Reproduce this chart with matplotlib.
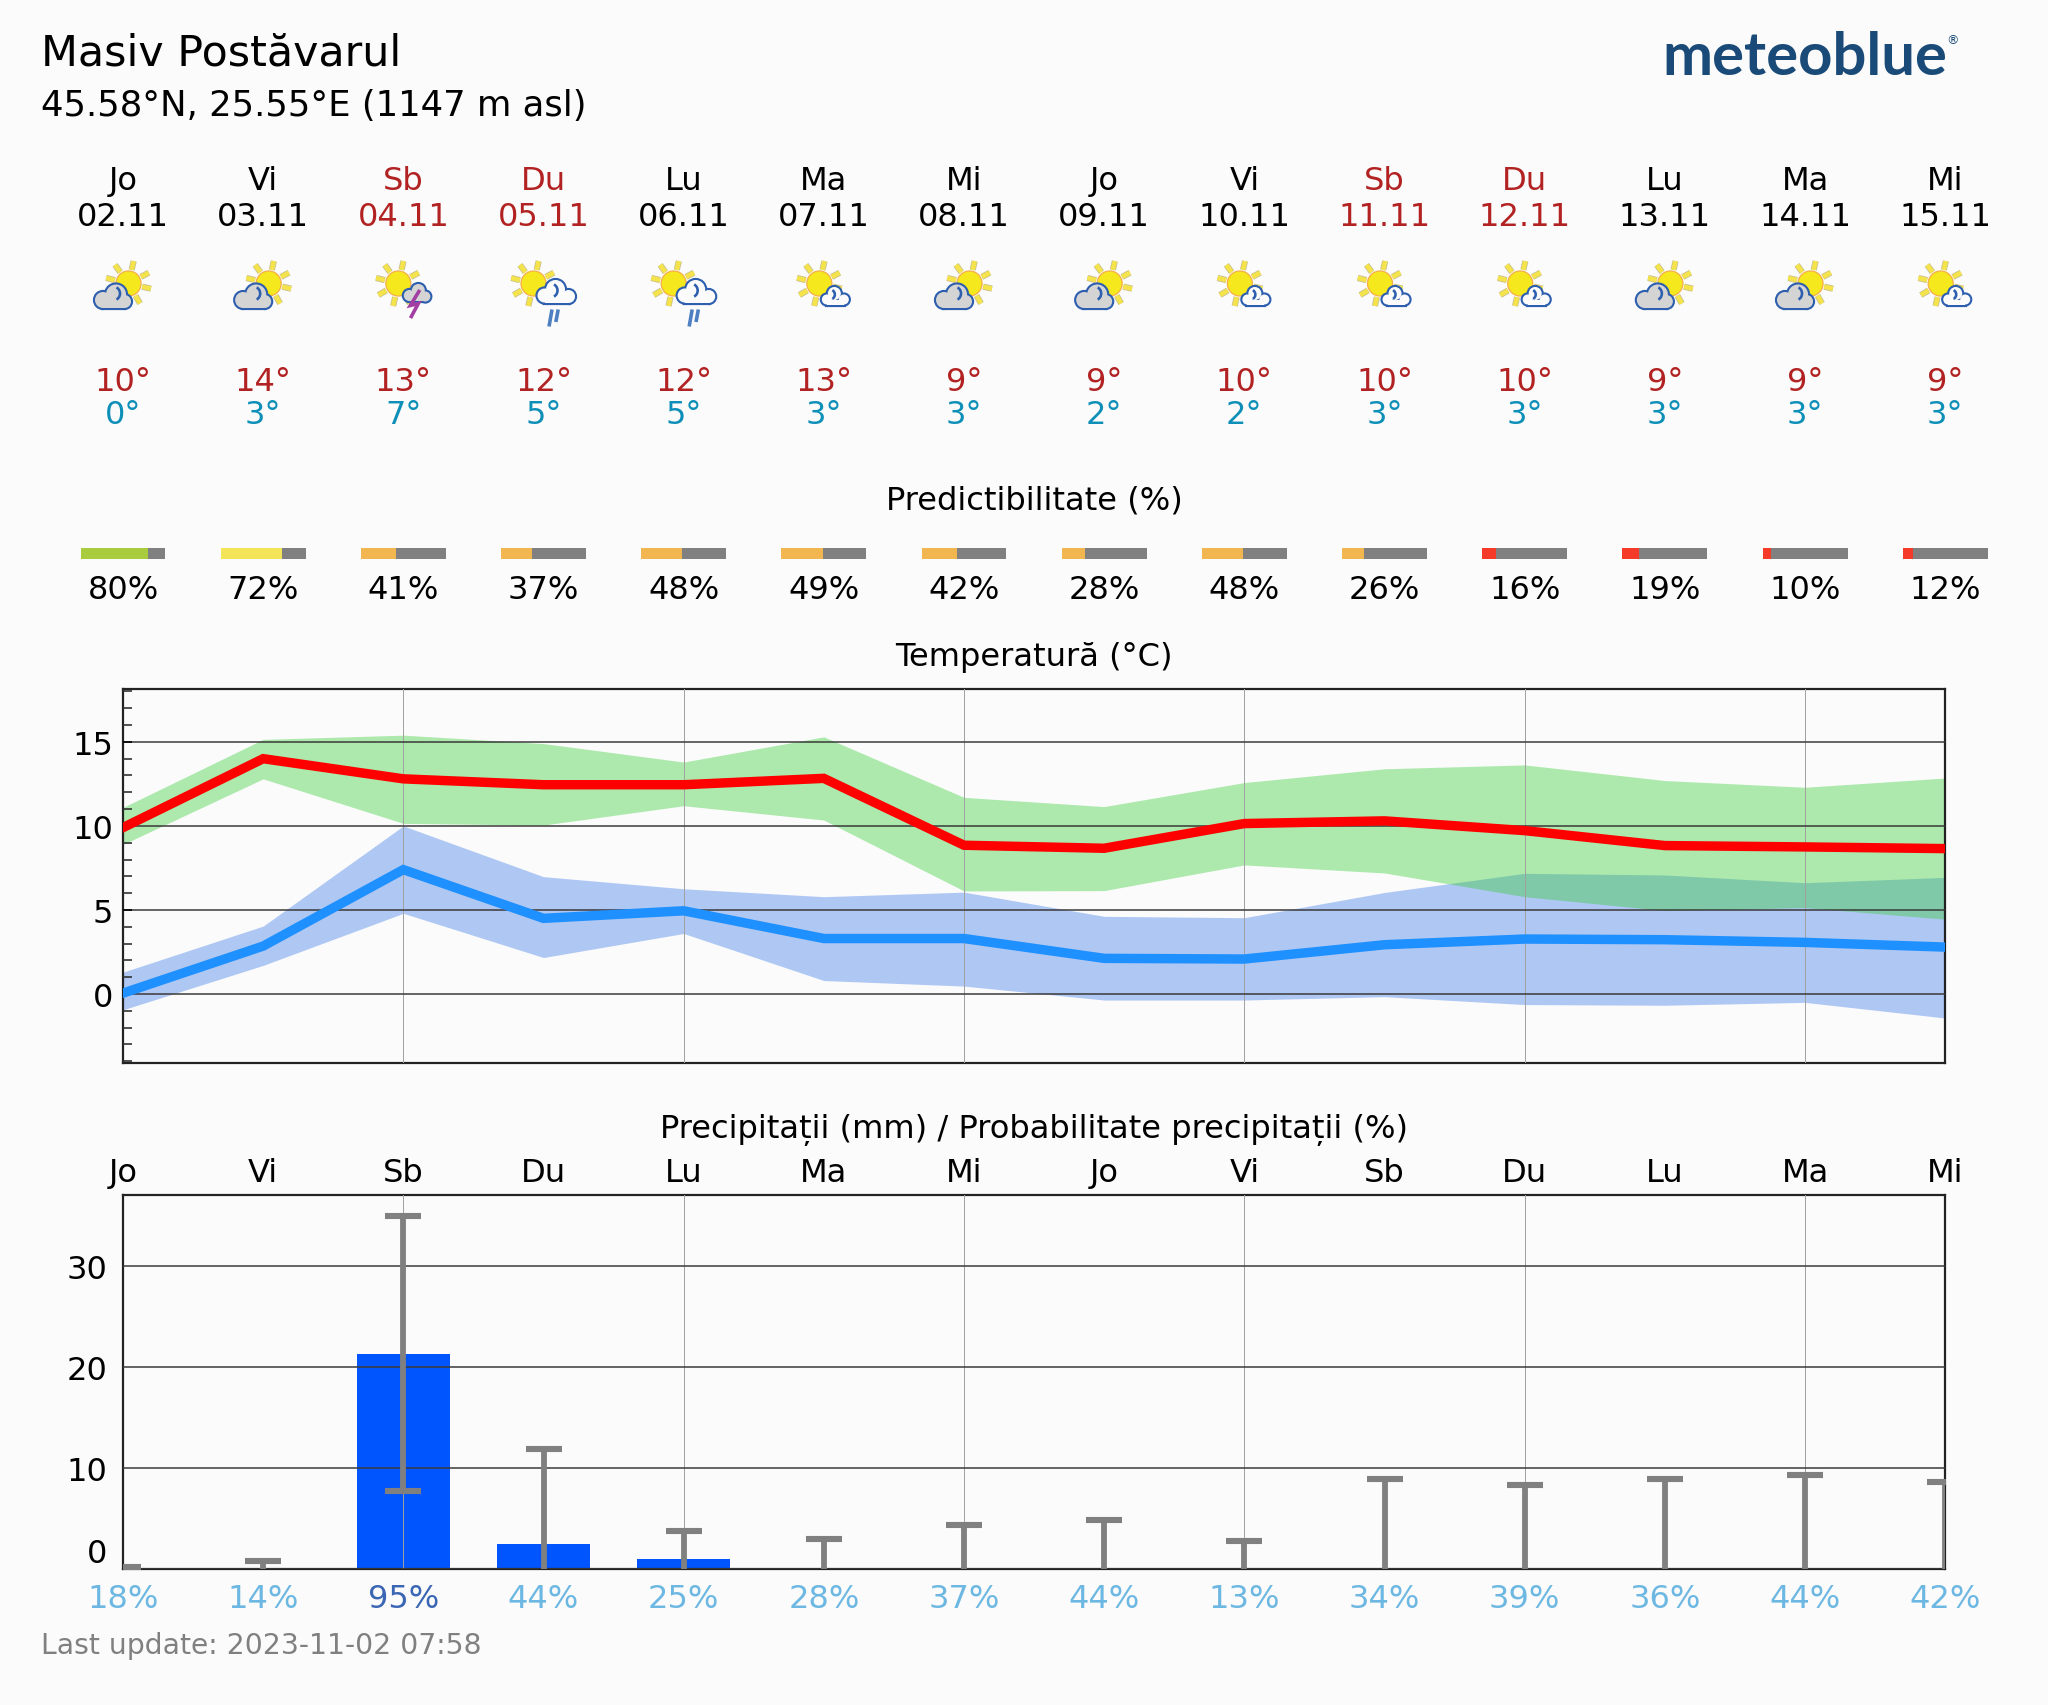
import numpy as np
import matplotlib
matplotlib.use("Agg")
import matplotlib.pyplot as plt
from matplotlib.patches import Circle, Rectangle, Arc
from matplotlib.transforms import blended_transform_factory

# ---------- data ----------
day_names = ["Jo", "Vi", "Sb", "Du", "Lu", "Ma", "Mi", "Jo", "Vi", "Sb", "Du", "Lu", "Ma", "Mi"]
dates = ["02.11", "03.11", "04.11", "05.11", "06.11", "07.11", "08.11",
         "09.11", "10.11", "11.11", "12.11", "13.11", "14.11", "15.11"]
weekend = [False, False, True, True, False, False, False, False, False, True, True, False, False, False]
icons = ["g", "g", "t", "r", "r", "s", "g", "g", "s", "s", "s", "g", "g", "s"]
label_max = [10, 14, 13, 12, 12, 13, 9, 9, 10, 10, 10, 9, 9, 9]
label_min = [0, 3, 7, 5, 5, 3, 3, 2, 2, 3, 3, 3, 3, 3]
predictability = [80, 72, 41, 37, 48, 49, 42, 28, 48, 26, 16, 19, 10, 12]

tmax_mean = [9.9, 14.0, 12.8, 12.45, 12.45, 12.83, 8.85, 8.67, 10.14, 10.3, 9.72, 8.83, 8.75, 8.65]
tmax_high = [11.1, 15.15, 15.4, 14.9, 13.8, 15.3, 11.7, 11.15, 12.58, 13.4, 13.63, 12.7, 12.3, 12.85]
tmax_low = [8.9, 12.8, 10.15, 10.05, 11.2, 10.35, 6.13, 6.15, 7.68, 7.2, 5.79, 4.96, 5.14, 4.45]
tmin_mean = [0.05, 2.85, 7.4, 4.5, 4.95, 3.3, 3.3, 2.12, 2.08, 2.93, 3.27, 3.23, 3.07, 2.79]
tmin_high = [1.3, 4.04, 10.0, 6.98, 6.26, 5.79, 6.06, 4.62, 4.54, 6.04, 7.18, 7.08, 6.62, 6.94]
tmin_low = [-0.94, 1.7, 4.8, 2.17, 3.6, 0.8, 0.47, -0.36, -0.36, -0.16, -0.63, -0.67, -0.5, -1.43]

precip = [0, 0, 21.3, 2.5, 1.0, 0, 0, 0, 0, 0, 0, 0, 0, 0]
precip_low = [0, 0, 7.75, 0, 0, 0, 0, 0, 0, 0, 0, 0, 0, 0]
precip_high = [0.25, 0.86, 34.9, 11.85, 3.8, 3.0, 4.4, 4.85, 2.78, 8.9, 8.35, 8.98, 9.3, 8.68]
precip_prob = [18, 14, 95, 44, 25, 28, 37, 44, 13, 34, 39, 36, 44, 42]

title = "Masiv Postăvarul"
subtitle = "45.58°N, 25.55°E (1147 m asl)"
footer = "Last update: 2023-11-02 07:58"

# ---------- layout ----------
W, H, DPI = 2048, 1706, 200
BG = "#fbfbfb"
DARK_RED = "#b22222"
CYAN = "#0e8fb8"
x = np.arange(len(dates))

plt.rcParams["font.family"] = ["DejaVu Sans"]
fig = plt.figure(figsize=(W / DPI, H / DPI), dpi=DPI, facecolor=BG)


def axes_px(left, top, right, bottom, **kw):
    return fig.add_axes([left / W, 1 - bottom / H, (right - left) / W, (bottom - top) / H], **kw)


L, R = 123, 1945.2
ax_px = axes_px(0, 0, W, H)
ax_px.set_xlim(0, W)
ax_px.set_ylim(H, 0)
ax_px.axis("off")

ax_t = axes_px(L, 689.6, R, 1064.4, facecolor="none")
ax_p = axes_px(L, 1195.7, R, 1570.3, facecolor="none")
ax_b = axes_px(L, 548.8, R, 559.8)
ax_b.axis("off")
for a in (ax_t, ax_p, ax_b):
    a.set_xlim(0, len(x) - 1)

tr = blended_transform_factory(ax_t.transData, ax_px.transData)
HEAD = 11.55


def htext(i, y, s, color="black", size=HEAD):
    ax_px.text(i, y, s, transform=tr, ha="center", va="center", color=color, fontsize=size)


ax_px.text(41, 53, title, fontsize=15.4, va="center", ha="left", color="black")
ax_px.text(41, 105.5, subtitle, fontsize=12.8, va="center", ha="left", color="black")
ax_px.text(1662, 58, "meteoblue", fontsize=21.5, fontfamily="Lato", fontweight="bold",
           color="#1a4a78", va="center", ha="left")
ax_px.text(1952, 41, "®", fontsize=4.5, color="#1a4a78", va="center", ha="center")
ax_px.text(41, 1646.5, footer, fontsize=10.2, color="#808080", va="center", ha="left")

mid = np.mean([L, R])
ax_px.text(mid, 500.5, "Predictibilitate (%)", fontsize=HEAD, ha="center", va="center")
ax_px.text(mid, 657.5, "Temperatură (°C)", fontsize=HEAD, ha="center", va="center")
ax_px.text(mid, 1130.5, "Precipitații (mm) / Probabilitate precipitații (%)",
           fontsize=HEAD, ha="center", va="center")

for i in x:
    c = DARK_RED if weekend[i] else "black"
    htext(i, 181, day_names[i], c)
    htext(i, 217, dates[i], c)
    htext(i, 382.5, f"{label_max[i]}°", DARK_RED)
    htext(i, 415.5, f"{label_min[i]}°", CYAN)
    htext(i, 590.5, f"{predictability[i]}%")
    htext(i, 1173.5, day_names[i])
    prob_col = "#3a66b4" if precip_prob[i] > 90 else "#6db8e2"
    htext(i, 1599.5, f"{precip_prob[i]}%", prob_col)


# ---------- weather icons ----------
def px2pt(v):
    return v * 72 / DPI


def sun(cx, cy):
    for deg in [-60, -13, 28, 77, 126, 166, 210, 257]:
        t = np.radians(deg)
        xs = [cx + 14 * np.cos(t), cx + 23 * np.cos(t)]
        ys = [cy - 14 * np.sin(t), cy - 23 * np.sin(t)]
        ax_px.plot(xs, ys, color="#c8c090", lw=px2pt(6.2), solid_capstyle="butt", zorder=2)
        ax_px.plot(xs, ys, color="#f4e34a", lw=px2pt(4.6), solid_capstyle="butt", zorder=2.1)
    ax_px.add_patch(Circle((cx, cy), 12.5, fc="#f5e81c", ec="#f5b04a", lw=px2pt(1.3), zorder=2.2))


def cloud(lobes, box, fill, curl=None):
    blue = "#2d5fae"
    for (a, b, r) in lobes:
        ax_px.add_patch(Circle((a, b), r, fc=blue, ec=blue, lw=px2pt(4.2), zorder=3))
    ax_px.add_patch(Rectangle(box[:2], box[2], box[3], fc=blue, ec=blue, lw=px2pt(4.2), zorder=3))
    for (a, b, r) in lobes:
        ax_px.add_patch(Circle((a, b), r, fc=fill, ec="none", zorder=3.1))
    ax_px.add_patch(Rectangle(box[:2], box[2], box[3], fc=fill, ec="none", zorder=3.1))
    if curl:
        ax_px.add_patch(Arc(curl[:2], curl[2], curl[2], theta1=300, theta2=60, color=blue,
                            lw=px2pt(2.6), zorder=3.2))


def icon(cx, kind, cy=284.5):
    if kind == "g":
        sun(cx + 5.5, cy)
        cloud([(cx - 20, cy + 16.5, 8), (cx - 7, cy + 11, 10), (cx + 1.5, cy + 18, 6.5)],
              (cx - 20, cy + 18, 21, 6.5), "#d4d4d4", (cx - 10, cy + 10, 14))
    elif kind == "s":
        sun(cx - 4.5, cy)
        cloud([(cx + 3, cy + 16, 5), (cx + 10.5, cy + 10, 6.5), (cx + 20, cy + 16, 5)],
              (cx + 3, cy + 16, 17, 5), BG, (cx + 6, cy + 11, 10))
    elif kind == "r":
        sun(cx - 10, cy)
        cloud([(cx + 1, cy + 12, 7), (cx + 12, cy + 6, 9.5), (cx + 25, cy + 13, 6.5)],
              (cx + 1, cy + 12, 24, 7), BG, (cx + 7, cy + 7, 14))
        for a, b, c, d in [(8.5, 26, 5.5, 43), (14.7, 26, 12.3, 38.5)]:
            ax_px.plot([cx + a, cx + c], [cy + b, cy + d], color="#4d7fc2",
                       lw=px2pt(3.6), solid_capstyle="butt", zorder=3)
    else:
        sun(cx - 5, cy)
        cloud([(cx + 6, cy + 12, 5.5), (cx + 15, cy + 7, 6.5), (cx + 22, cy + 13, 5)],
              (cx + 6, cy + 12, 16, 5.5), "#d4d4d4")
        ax_px.plot([cx + 15.5, cx + 7, cx + 15, cx + 8], [cy + 8, cy + 22, cy + 20, cy + 33],
                   color="#a33fa3", lw=px2pt(3.6), solid_joinstyle="miter", zorder=4)


for i in x:
    icon(ax_t.transData.transform((i, 0))[0], icons[i])

# ---------- predictability ----------
BAR_W = 0.606
ax_b.set_ylim(0, 1)


def pred_color(p):
    if p >= 80:
        return "#a8cc3e"
    if p >= 60:
        return "#f4e558"
    if p >= 20:
        return "#f1b64f"
    return "#f53a2a"


for i in x:
    p = predictability[i] / 100
    ax_b.bar(i - BAR_W / 2, 1, width=BAR_W * p, align="edge", color=pred_color(predictability[i]),
             clip_on=False)
    ax_b.bar(i - BAR_W / 2 + BAR_W * p, 1, width=BAR_W * (1 - p), align="edge", color="#808080",
             clip_on=False)

# ---------- temperature ----------
ax_t.fill_between(x, tmin_low, tmin_high, color="cornflowerblue", alpha=0.5, lw=0, zorder=1)
ax_t.fill_between(x, tmax_low, tmax_high, color="limegreen", alpha=0.385, lw=0, zorder=1.1)
ax_t.plot(x, tmax_mean, color="#ff0000", lw=3.4, zorder=3, solid_joinstyle="miter")
ax_t.plot(x, tmin_mean, color="#1e90ff", lw=3.4, zorder=3, solid_joinstyle="miter")
ax_t.set_ylim(-4.13, 18.17)
ax_t.set_yticks([0, 5, 10, 15])
ax_t.set_yticks(np.arange(-4, 19), minor=True)
ax_t.tick_params(axis="y", which="major", length=3.2, width=0.6, direction="in", labelsize=11.55)
ax_t.tick_params(axis="y", which="minor", length=3.2, width=0.6, direction="in", color="#333333")

# ---------- precipitation ----------
ax_p.bar(x, precip, width=0.665, color="#0055ff", zorder=1)
ax_p.vlines(x, precip_low, precip_high, color="#808080", lw=2.1, zorder=3)
ax_p.plot(x, precip_high, ls="none", marker="_", ms=13, mew=2.2, color="#808080", zorder=3)
lows = np.array(precip_low)
ax_p.plot(x[lows > 0], lows[lows > 0], ls="none", marker="_", ms=13, mew=2.2, color="#808080", zorder=3)
ax_p.set_ylim(0, 37.05)
ax_p.set_yticks([0, 10, 20, 30])
ax_p.tick_params(axis="y", length=0, labelsize=11.55, pad=5.5)
ax_p.get_yticklabels()[0].set_va("bottom")

for a in (ax_t, ax_p):
    a.set_xticks(x[2::2])
    a.tick_params(axis="x", length=0, labelbottom=False)
    a.grid(True, axis="x", color="#a0a0a0", lw=0.35, zorder=2)
    a.grid(True, axis="y", color="#3a3a3a", lw=0.55, zorder=2)
    a.set_axisbelow(False)
    for s in a.spines.values():
        s.set_linewidth(0.8)
        s.set_color("#222222")
    for line in a.get_xgridlines() + a.get_ygridlines():
        line.set_zorder(2)

fig.savefig("out.png", dpi=DPI, facecolor=BG)
